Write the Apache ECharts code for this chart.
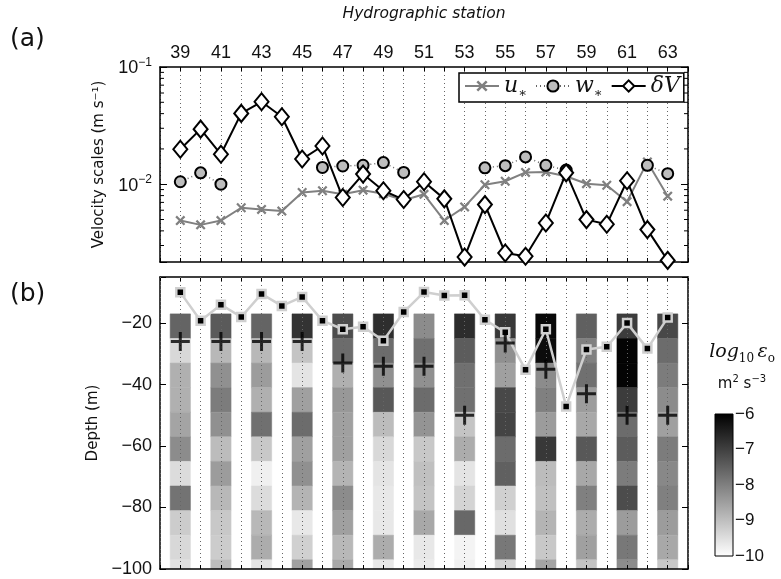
<!DOCTYPE html>
<html><head><meta charset="utf-8">
<script src="https://cdn.jsdelivr.net/npm/echarts@6/dist/echarts.min.js"></script>
<style>html,body{margin:0;padding:0;background:#fff}#c{width:781px;height:579px}</style>
</head><body><div id="c"></div>
<script>
// ---------- data ----------
const stations = [39,40,41,42,43,44,45,46,47,48,49,50,51,52,53,54,55,56,57,58,59,60,61,62,63];
const uStar  = [0.0049,0.0045,0.0049,0.0063,0.0061,0.0059,0.0085,0.0088,0.0082,0.0089,0.0083,0.0073,0.0082,0.0049,0.0064,0.0099,0.0106,0.0126,0.0127,0.0117,0.0101,0.0098,0.0071,0.0155,0.0079];
const wStar  = [0.0105,0.0125,0.0100,null,null,null,null,0.0139,0.0143,0.0145,0.0153,0.0126,null,null,null,0.0138,0.0144,0.0171,0.0145,0.0132,null,null,null,0.0145,0.0123];
const deltaV = [0.0199,0.0295,0.0180,0.0402,0.0505,0.0376,0.0164,0.0212,0.0077,0.0122,0.0088,0.0074,0.0105,0.0075,0.00239,0.0067,0.00259,0.00243,0.00467,0.0125,0.00499,0.00455,0.0107,0.0041,0.00224];
const mixedLayerDepth = [-10,-19.2,-14,-18,-10.5,-14.4,-11.5,-19.2,-22,-21.2,-25.7,-16.4,-9.9,-11,-10.9,-18.9,-23,-35.2,-22,-47.1,-28.6,-27.7,-20,-28.3,-18.2];
const profileStations = [39,41,43,45,47,49,51,53,55,57,59,61,63];
const plusDepth = [-26,-26,-26,-26,-33,-34,-34,-50,-26.5,-35,-43,-50,-50];
const binCenters = [-21,-29,-37,-45,-53,-61,-69,-77,-85,-93,-101];
const binSize = 8;
// log10 epsilon, one row per profile station, top bin first
const logEps = [
  [-7.57,-9.39,-8.76,-8.76,-8.57,-8.20,-9.45,-7.80,-9.20,-9.39,-9.51], // 39
  [-7.41,-8.89,-8.26,-7.95,-8.26,-8.95,-8.45,-8.89,-9.14,-9.20,-8.95], // 41
  [-7.57,-8.89,-8.45,-8.76,-7.76,-9.14,-9.76,-9.45,-8.89,-8.70,-9.58], // 43
  [-6.80,-9.07,-9.58,-8.51,-7.69,-8.51,-8.26,-8.82,-9.64,-9.26,-8.51], // 45
  [-7.19,-7.69,-8.76,-8.38,-8.51,-8.51,-8.82,-8.20,-8.51,-8.89,-8.64], // 47
  [-6.72,-7.69,-8.26,-7.38,-8.95,-9.39,-9.58,-9.64,-9.64,-8.70,-9.64], // 49
  [-8.20,-7.76,-8.26,-7.69,-8.32,-9.14,-9.01,-9.07,-8.64,-9.64,-9.70], // 51
  [-6.69,-7.44,-7.76,-7.76,-9.07,-8.70,-9.58,-9.33,-7.63,-9.83,-9.76], // 53
  [-6.88,-8.26,-8.51,-7.13,-7.07,-7.69,-7.51,-9.26,-9.51,-7.88,-9.33], // 55
  [-6.13,-6.19,-8.20,-8.01,-8.45,-6.88,-8.95,-9.01,-8.82,-9.14,-8.57], // 57
  [-7.51,-8.01,-7.76,-8.45,-8.64,-7.38,-8.64,-8.01,-8.70,-8.51,-9.07], // 59
  [-6.94,-6.06,-6.06,-6.94,-7.69,-7.44,-7.95,-7.19,-8.45,-7.88,-8.20], // 61
  [-7.13,-7.69,-7.95,-8.20,-8.51,-7.95,-8.13,-8.01,-8.45,-8.64,-9.14]  // 63
];
const minorLogTicks = [0.003,0.004,0.005,0.006,0.007,0.008,0.009,0.02,0.03,0.04,0.05,0.06,0.07,0.08,0.09];
const colorbarTicks = [-10,-6];

// ---------- build ----------
const cellData = [];
profileStations.forEach((s, i) => binCenters.forEach((d, j) => cellData.push([s, d, logEps[i][j]])));
const pair = (xs, ys) => xs.map((x, i) => [x, ys[i]]);

const SANS = 'DejaVu Sans';
const LBL = 'Liberation Sans';
const MINUS = v => String(v).replace('-', '\u2212');
const blackLine = {show: true, lineStyle: {color: '#000', width: 1.5}};
const inTick = len => ({show: true, inside: true, length: len, lineStyle: {color: '#000', width: 1}});
const dotted = {show: true, lineStyle: {color: '#666', width: 1, type: [1, 3]}};

const xCommon = {type: 'value', min: 38, max: 64, interval: 1, axisLine: blackLine, axisTick: inTick(4)};

const chart = echarts.init(document.getElementById('c'), null, {renderer: 'canvas'});
chart.setOption({
  animation: false,
  backgroundColor: '#fff',
  textStyle: {fontFamily: SANS},
  grid: [
    {left: 160, top: 67, width: 528, height: 195},
    {left: 160, top: 277, width: 528, height: 292},
    {left: 715, top: 414, width: 18, height: 142}
  ],
  xAxis: [
    Object.assign({}, xCommon, {gridIndex: 0, position: 'bottom', axisLabel: {show: false}, splitLine: dotted}),
    Object.assign({}, xCommon, {gridIndex: 0, position: 'top', splitLine: {show: false},
      axisLabel: {show: true, margin: 5, fontFamily: LBL, fontSize: 18, color: '#111',
        formatter: v => (v % 2 === 1 ? String(v) : '')},
      name: 'Hydrographic station', nameLocation: 'middle', nameGap: 45,
      nameTextStyle: {fontFamily: SANS, fontStyle: 'italic', fontSize: 15.5, color: '#111'}}),
    Object.assign({}, xCommon, {gridIndex: 1, position: 'bottom', axisLabel: {show: false}, splitLine: dotted, z: 5}),
    Object.assign({}, xCommon, {gridIndex: 1, position: 'top', axisLabel: {show: false}, splitLine: {show: false}}),
    {type: 'value', gridIndex: 2, min: 0, max: 1, show: false}
  ],
  yAxis: [
    {type: 'log', logBase: 10, gridIndex: 0, position: 'left', min: 0.00217, max: 0.1,
      axisLine: blackLine, axisTick: inTick(7), splitLine: {show: false},
      axisLabel: {margin: 8, color: '#111',
        formatter: v => {
          const e = Math.log10(v);
          if (Math.abs(e - Math.round(e)) > 1e-6) return '';
          return '{b|10}{s|' + MINUS(Math.round(e)) + '}';
        },
        rich: {b: {fontFamily: LBL, fontSize: 18, verticalAlign: 'bottom'},
               s: {fontFamily: LBL, fontSize: 12, verticalAlign: 'bottom', padding: [0, 0, 9, 0]}}},
      name: 'Velocity scales (m s\u207B\u00B9)', nameLocation: 'middle', nameGap: 53,
      nameTextStyle: {fontFamily: SANS, fontSize: 15, color: '#111'}},
    {type: 'log', logBase: 10, gridIndex: 0, position: 'right', min: 0.00217, max: 0.1,
      axisLine: blackLine, axisTick: inTick(7), axisLabel: {show: false}, splitLine: {show: false}},
    {type: 'value', gridIndex: 1, position: 'left', min: -100, max: -5, interval: 20,
      axisLine: blackLine, axisTick: inTick(6), splitLine: {show: false},
      axisLabel: {margin: 8, fontFamily: LBL, fontSize: 18, color: '#111',
        formatter: v => (v % 20 === 0 ? MINUS(v) : '')},
      name: 'Depth (m)', nameLocation: 'middle', nameGap: 53,
      nameTextStyle: {fontFamily: SANS, fontSize: 15, color: '#111'}},
    {type: 'value', gridIndex: 1, position: 'right', min: -100, max: -5, interval: 20,
      axisLine: blackLine, axisTick: inTick(6), axisLabel: {show: false}, splitLine: {show: false}},
    {type: 'value', gridIndex: 2, position: 'right', min: -10, max: -6, interval: 1,
      axisLine: {show: false}, axisTick: {show: false}, splitLine: {show: false},
      axisLabel: {margin: 2, fontFamily: LBL, fontSize: 17, color: '#111', formatter: MINUS}}
  ],
  visualMap: {type: 'continuous', show: false, seriesIndex: 3, dimension: 2, min: -10, max: -6,
    inRange: {color: ['#ffffff', '#000000']}},
  legend: {
    left: 459, top: 73, orient: 'horizontal', padding: [2, 4, 2, 5], itemGap: 8,
    itemWidth: 34, itemHeight: 14, backgroundColor: '#fff', borderColor: '#000', borderWidth: 1.5,
    borderRadius: 0, z: 20,
    data: ['u', 'w', 'dV'],
    formatter: n => (n === 'dV' ? '{i|\u03B4V}' : '{i|' + n + '}{s|\u2217}'),
    textStyle: {rich: {
      i: {fontFamily: 'DejaVu Serif', fontStyle: 'italic', fontSize: 22, color: '#111', lineHeight: 20},
      s: {fontFamily: 'DejaVu Serif', fontSize: 13, color: '#111', verticalAlign: 'bottom', padding: [0, 0, -4, 0], lineHeight: 20}
    }}
  },
  series: [
    {name: 'u', type: 'line', xAxisIndex: 0, yAxisIndex: 0, data: pair(stations, uStar),
      lineStyle: {color: '#808080', width: 2}, itemStyle: {color: '#808080'},
      symbol: 'path://M0,1.6L1.6,0L5,3.4L8.4,0L10,1.6L6.6,5L10,8.4L8.4,10L5,6.6L1.6,10L0,8.4L3.4,5Z',
      symbolSize: 10, z: 3},
    {name: 'w', type: 'line', xAxisIndex: 0, yAxisIndex: 0, data: pair(stations, wStar), connectNulls: false,
      lineStyle: {color: '#666', width: 1.5, type: [1, 3]},
      itemStyle: {color: '#bdbdbd', borderColor: '#000', borderWidth: 2},
      symbol: 'circle', symbolSize: 11, showAllSymbol: true, z: 4},
    {name: 'dV', type: 'line', xAxisIndex: 0, yAxisIndex: 0, data: pair(stations, deltaV),
      lineStyle: {color: '#000', width: 2},
      itemStyle: {color: '#fff', borderColor: '#000', borderWidth: 2},
      symbol: 'diamond', symbolSize: [14, 17], z: 5},
    {type: 'custom', xAxisIndex: 2, yAxisIndex: 2, data: cellData, encode: {x: 0, y: 1}, z: 2,
      renderItem: (params, api) => {
        const x = api.value(0), yc = api.value(1);
        const p1 = api.coord([x - 0.5, yc + binSize / 2]);
        const p2 = api.coord([x + 0.5, yc - binSize / 2]);
        const cs = params.coordSys;
        const r = echarts.graphic.clipRectByRect(
          {x: p1[0], y: p1[1], width: p2[0] - p1[0], height: p2[1] - p1[1]},
          {x: cs.x, y: cs.y, width: cs.width, height: cs.height});
        if (!r) return null;
        const c = api.visual('color');
        return {type: 'rect', shape: r, style: {fill: c, stroke: c, lineWidth: 0.5}};
      }},
    {type: 'line', xAxisIndex: 2, yAxisIndex: 2, data: pair(stations, mixedLayerDepth),
      lineStyle: {color: '#cfcfcf', width: 2.5},
      itemStyle: {color: '#000', borderColor: '#cfcfcf', borderWidth: 2.5},
      symbol: 'rect', symbolSize: 8, z: 8},
    {type: 'scatter', xAxisIndex: 2, yAxisIndex: 2, data: pair(profileStations, plusDepth),
      symbol: 'path://M8,0H11V8H19V11H11V19H8V11H0V8H8Z', symbolSize: 19,
      itemStyle: {color: '#000'}, z: 9},
    {type: 'custom', xAxisIndex: 0, yAxisIndex: 0, data: minorLogTicks.map(v => [38, v]), z: 1,
      renderItem: (params, api) => {
        const cs = params.coordSys;
        const y = api.coord([38, api.value(1)])[1];
        return {type: 'group', children: [
          {type: 'line', shape: {x1: cs.x, y1: y, x2: cs.x + 4, y2: y}, style: {stroke: '#000', lineWidth: 1}},
          {type: 'line', shape: {x1: cs.x + cs.width - 4, y1: y, x2: cs.x + cs.width, y2: y}, style: {stroke: '#000', lineWidth: 1}}
        ]};
      }},
    {type: 'custom', xAxisIndex: 4, yAxisIndex: 4, data: [colorbarTicks], z: 2,
      renderItem: (params, api) => {
        const p1 = api.coord([0, -6]);
        const p2 = api.coord([1, -10]);
        return {type: 'rect', shape: {x: p1[0], y: p1[1], width: p2[0] - p1[0], height: p2[1] - p1[1]},
          style: {fill: new echarts.graphic.LinearGradient(0, 0, 0, 1, [{offset: 0, color: '#000'}, {offset: 1, color: '#fff'}]),
                  stroke: '#000', lineWidth: 1}};
      }}
  ],
  graphic: [
    {type: 'text', left: 10, top: 27, style: {text: '(a)', font: '25px "DejaVu Sans"', fill: '#111'}},
    {type: 'text', left: 10, top: 282, style: {text: '(b)', font: '25px "DejaVu Sans"', fill: '#111'}},
    {type: 'text', x: 742, y: 352, style: {
      text: '{i|log}{s|10} {i|\u03B5}{s|o}', align: 'center', verticalAlign: 'middle',
      rich: {i: {fontFamily: 'DejaVu Serif', fontStyle: 'italic', fontSize: 19, fill: '#111', verticalAlign: 'bottom'},
             s: {fontFamily: 'DejaVu Serif', fontSize: 12, fill: '#111', verticalAlign: 'bottom', padding: [0, 0, -3, 0]}}}},
    {type: 'text', x: 742, y: 383, style: {
      text: '{n|m}{p|2}{n| s}{p|\u22123}', align: 'center', verticalAlign: 'middle',
      rich: {n: {fontFamily: SANS, fontSize: 15, fill: '#111', verticalAlign: 'bottom'},
             p: {fontFamily: SANS, fontSize: 10, fill: '#111', verticalAlign: 'bottom', padding: [0, 0, 8, 0]}}}}
  ]
});
</script></body></html>
